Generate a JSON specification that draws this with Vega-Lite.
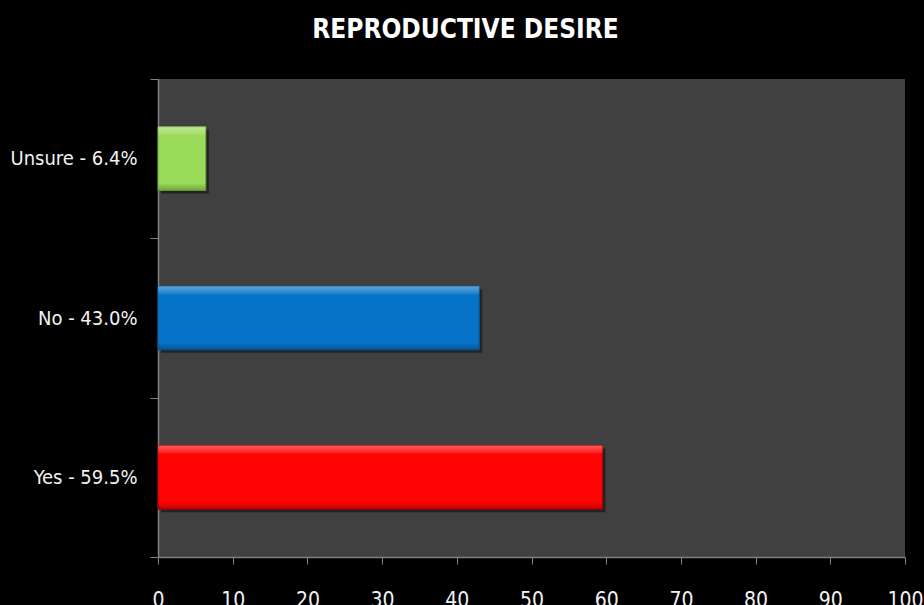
{
  "$schema": "https://vega.github.io/schema/vega-lite/v6.json",
  "width": 747,
  "height": 478,
  "autosize": {"type": "none"},
  "padding": {"left": 158, "top": 79, "right": 19, "bottom": 48},
  "background": "#000000",
  "title": {
    "text": "REPRODUCTIVE DESIRE",
    "color": "#FFFFFF",
    "font": "DejaVu Sans Condensed, DejaVu Sans",
    "fontSize": 26,
    "fontWeight": "bold",
    "anchor": "middle",
    "dx": -66,
    "offset": 26
  },
  "data": {
    "values": [
      {"label": "Unsure - 6.4%", "value": 6.4, "cat": "Unsure"},
      {"label": "No - 43.0%", "value": 43.0, "cat": "No"},
      {"label": "Yes - 59.5%", "value": 59.5, "cat": "Yes"}
    ]
  },
  "encoding": {
    "y": {
      "field": "label",
      "type": "nominal",
      "sort": ["Unsure - 6.4%", "No - 43.0%", "Yes - 59.5%"],
      "scale": {"paddingInner": 0, "paddingOuter": 0},
      "axis": {
        "title": null,
        "tickBand": "extent",
        "tickSize": 8,
        "tickColor": "#808080",
        "domainColor": "#808080",
        "domainWidth": 1.5,
        "labelColor": "#F2F2F2",
        "labelFont": "Liberation Sans Narrow, DejaVu Sans Condensed, Liberation Sans",
        "labelFontSize": 20,
        "labelPadding": 13
      }
    },
    "x": {
      "field": "value",
      "type": "quantitative",
      "scale": {"domain": [0, 100], "nice": false},
      "axis": {
        "title": null,
        "values": [0, 10, 20, 30, 40, 50, 60, 70, 80, 90, 100],
        "grid": false,
        "tickSize": 7,
        "tickColor": "#808080",
        "domainColor": "#808080",
        "domainWidth": 1.5,
        "labelColor": "#F2F2F2",
        "labelFont": "Liberation Sans Narrow, DejaVu Sans Condensed, Liberation Sans",
        "labelFontSize": 21,
        "labelBaseline": "top",
        "labelPadding": 25,
        "labelFlush": false
      }
    }
  },
  "layer": [
    {
      "mark": {"type": "bar", "color": "#000000", "opacity": 0.45, "xOffset": 3, "yOffset": 3, "height": {"band": 0.4}}
    },
    {
      "mark": {"type": "bar", "strokeWidth": 1, "height": {"band": 0.4}},
      "encoding": {
        "color": {
          "field": "cat",
          "type": "nominal",
          "scale": {"domain": ["Unsure", "No", "Yes"], "range": ["#9BDB5A", "#0574C8", "#FE0404"]},
          "legend": null
        },
        "stroke": {
          "field": "cat",
          "type": "nominal",
          "scale": {"domain": ["Unsure", "No", "Yes"], "range": ["#6FA83A", "#0A5A9A", "#B00000"]},
          "legend": null
        }
      }
    },
    {
      "mark": {
        "type": "bar",
        "height": {"band": 0.4},
        "color": {
          "gradient": "linear",
          "x1": 0, "y1": 0, "x2": 0, "y2": 1,
          "stops": [
            {"offset": 0, "color": "rgba(255,255,255,0.35)"},
            {"offset": 0.1, "color": "rgba(255,255,255,0.15)"},
            {"offset": 0.14, "color": "rgba(255,255,255,0)"},
            {"offset": 0.88, "color": "rgba(0,0,0,0)"},
            {"offset": 1, "color": "rgba(0,0,0,0.25)"}
          ]
        }
      }
    }
  ],
  "config": {
    "view": {"fill": "#404040", "stroke": null}
  }
}
